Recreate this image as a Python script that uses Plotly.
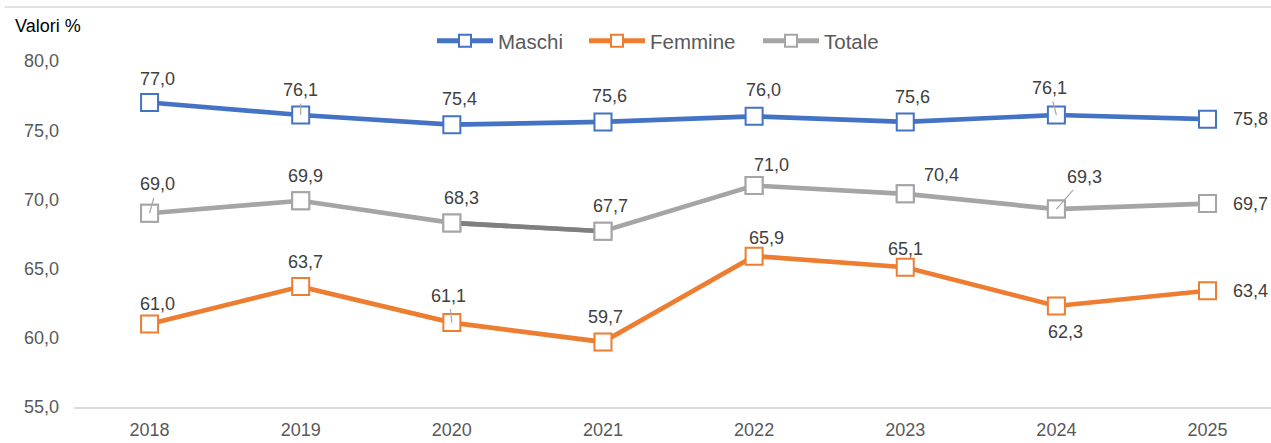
import plotly.graph_objects as go

# ---- data ----
years = ["2018", "2019", "2020", "2021", "2022", "2023", "2024", "2025"]
maschi = [77.0, 76.1, 75.4, 75.6, 76.0, 75.6, 76.1, 75.8]
femmine = [61.0, 63.7, 61.1, 59.7, 65.9, 65.1, 62.3, 63.4]
totale = [69.0, 69.9, 68.3, 67.7, 71.0, 70.4, 69.3, 69.7]
y_ticks = [55, 60, 65, 70, 75, 80]

# ---- styling ----
FONT = "Liberation Sans, Arial, sans-serif"
C_M, C_F, C_T, C_TD = "#4472C4", "#ED7D31", "#A5A5A5", "#7F7F7F"
LW = 4.7
MS = 17

# label offsets (px, dx right, dy down) and whether a leader line is drawn
off_m = [(8, -24, 0), (0, -25, 1), (8, -26, 0), (7, -26, 0), (9, -26, 0), (7, -25, 0), (-7, -27, 1), (43, 0, 0)]
off_t = [(8, -29, 1), (5, -25, 0), (10, -25, 0), (8, -25, 0), (17, -21, 0), (36, -19, 0), (28, -32, 1), (43, 0, 0)]
off_f = [(8, -20, 0), (5, -25, 0), (-3, -27, 1), (3, -25, 0), (12, -18, 0), (0, -18, 0), (9, 26, 0), (43, 0, 0)]


def fmt(v):
    return f"{v:.1f}".replace(".", ",")


def series(name, vals, color, showlegend=True, mode="lines+markers", lw=None):
    return go.Scatter(
        x=years, y=vals, name=name, mode=mode, showlegend=showlegend,
        legendwidth=lw,
        line=dict(color=color, width=LW),
        marker=dict(symbol="square", size=MS, color="white",
                    line=dict(color=color, width=2)),
        hoverinfo="skip",
    )


fig = go.Figure()
fig.add_trace(series("Maschi", maschi, C_M, lw=81))
fig.add_trace(series("Femmine", femmine, C_F, lw=103))
fig.add_trace(series("Totale", totale, C_T, lw=72))
# darker segment 2020-2021 on Totale
fig.add_trace(go.Scatter(x=years[2:4], y=totale[2:4], mode="lines", showlegend=False,
                         line=dict(color=C_TD, width=LW), hoverinfo="skip"))
fig.add_trace(series("Totale", totale, C_T, showlegend=False, mode="markers"))

annotations = []
for vals, offs in ((maschi, off_m), (totale, off_t), (femmine, off_f)):
    for i, (v, (dx, dy, lead)) in enumerate(zip(vals, offs)):
        annotations.append(dict(
            x=i, y=v, xref="x", yref="y", text=fmt(v),
            showarrow=True, ax=dx, ay=dy, arrowhead=0, arrowwidth=1.2,
            arrowcolor="#A6A6A6" if lead else "rgba(0,0,0,0)",
            startstandoff=2,
            font=dict(family=FONT, size=18, color="#404040"),
        ))

annotations.append(dict(
    x=-0.051, y=1.101, xref="paper", yref="paper", text="Valori %",
    showarrow=False, xanchor="left", yanchor="middle",
    font=dict(family=FONT, size=18, color="#000000"),
))

fig.update_layout(
    width=1271, height=443,
    margin=dict(l=74, r=0, t=61, b=36),
    paper_bgcolor="white", plot_bgcolor="white",
    separators=",.",
    font=dict(family=FONT, size=18, color="#595959"),
    showlegend=True,
    legend=dict(orientation="h", x=(432 - 74) / 1197, xanchor="left", y=1.058, yanchor="middle",
                font=dict(family=FONT, size=20.5, color="#595959"),
                itemwidth=56, itemsizing="constant", traceorder="normal",
                bgcolor="rgba(0,0,0,0)"),
    xaxis=dict(type="category", range=[-0.5, 7.42], showgrid=False, zeroline=False,
               showline=True, linecolor="#D9D9D9", linewidth=2, ticks="",
               ticklabelstandoff=5,
               tickfont=dict(family=FONT, size=18, color="#595959")),
    yaxis=dict(range=[55, 80], tickvals=y_ticks, tickformat=".1f", showgrid=False,
               zeroline=False, showline=False, ticks="", ticklabelstandoff=14,
               tickfont=dict(family=FONT, size=18, color="#595959")),
    annotations=annotations,
    shapes=[dict(type="line", xref="paper", yref="paper", x0=-0.058, x1=1,
                 y0=1.156, y1=1.156, line=dict(color="#D9D9D9", width=1.5))],
)

fig.write_html("out.html", config={"displayModeBar": False},
               post_script="document.body.style.margin='0';document.body.style.overflow='hidden';")
